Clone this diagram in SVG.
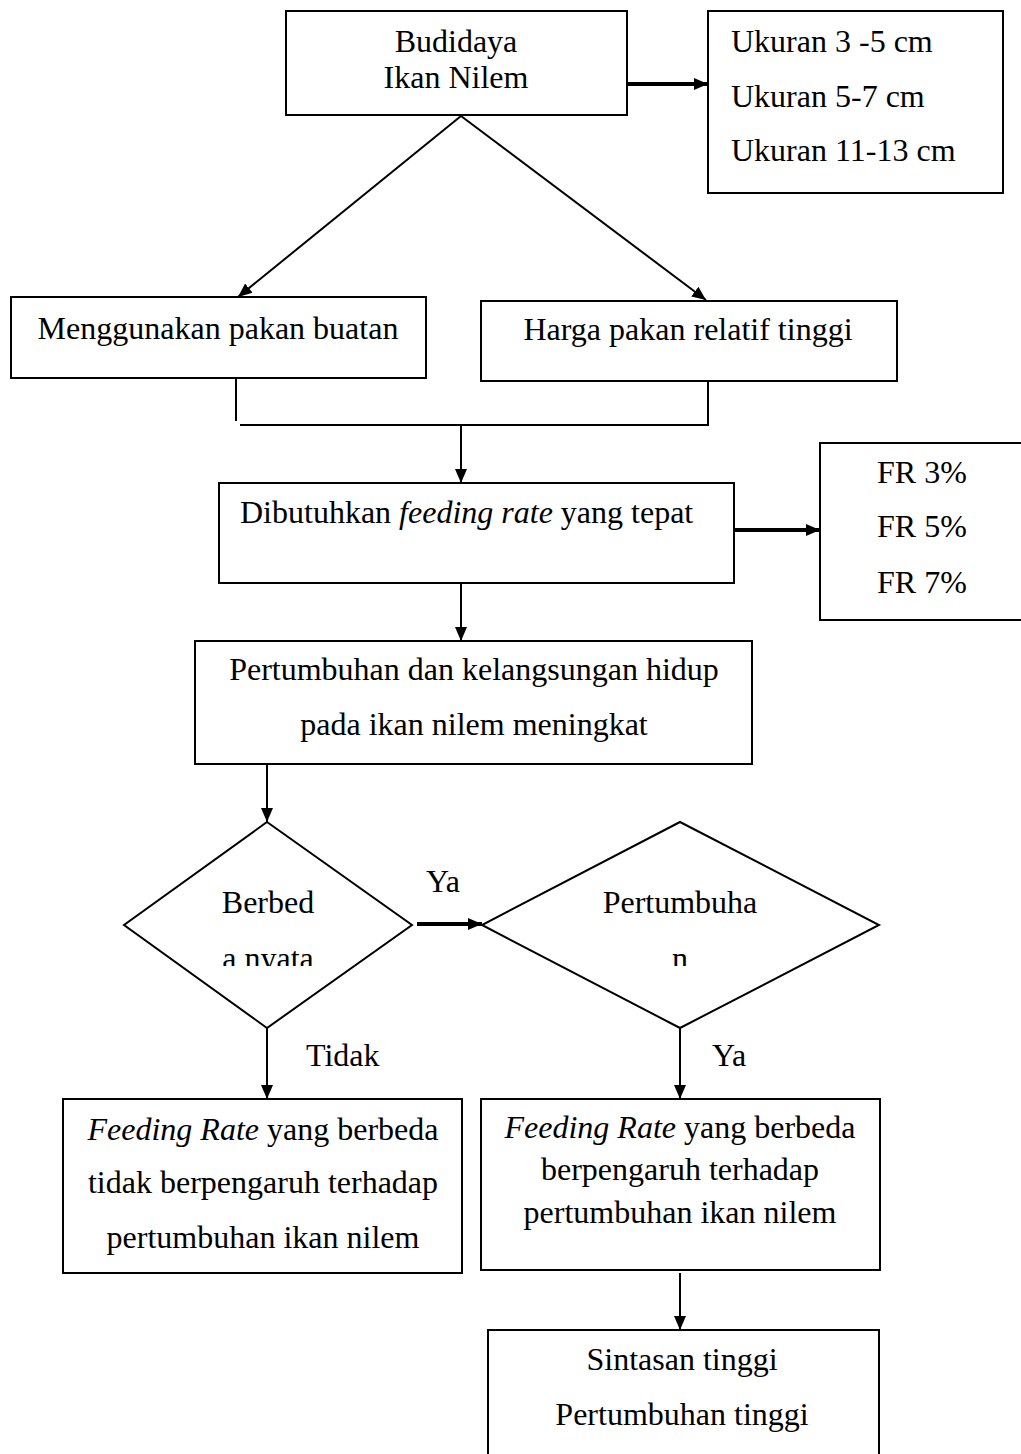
<svg xmlns="http://www.w3.org/2000/svg" width="1021" height="1454" viewBox="0 0 1021 1454">
<style>
  .box { fill: #fff; stroke: #000; stroke-width: 2; }
  .t { font-family: "Liberation Serif", "Times New Roman", serif; font-size: 32px; fill: #000; }
  .c { text-anchor: middle; }
  .i { font-style: italic; }
  .ln { stroke: #000; stroke-width: 2; fill: none; }
  .thick { stroke: #000; stroke-width: 4; fill: none; }
</style>
<defs>
  <marker id="ah" markerUnits="userSpaceOnUse" markerWidth="16" markerHeight="14" refX="14" refY="7" orient="auto">
    <path d="M0,1 L14,7 L0,13 Z" fill="#000"/>
  </marker>
  <clipPath id="clipD">
    <rect x="0" y="0" width="1021" height="966"/>
  </clipPath>
</defs>

<rect width="1021" height="1454" fill="#fff"/>

<g id="connectors">
  <line class="thick" x1="628" y1="84" x2="708" y2="84" marker-end="url(#ah)"/>
  <line class="ln" x1="461" y1="116" x2="238" y2="297" marker-end="url(#ah)"/>
  <line class="ln" x1="461" y1="116" x2="706" y2="300" marker-end="url(#ah)"/>
  <line class="ln" x1="236" y1="378" x2="236" y2="421"/>
  <line class="ln" x1="708" y1="381" x2="708" y2="426"/>
  <line class="ln" x1="240" y1="425" x2="709" y2="425"/>
  <line class="ln" x1="461" y1="425" x2="461" y2="483" marker-end="url(#ah)"/>
  <line class="thick" x1="731" y1="530" x2="820" y2="530" marker-end="url(#ah)"/>
  <line class="ln" x1="461" y1="583" x2="461" y2="641" marker-end="url(#ah)"/>
  <line class="ln" x1="267" y1="764" x2="267" y2="822" marker-end="url(#ah)"/>
  <line class="thick" x1="417" y1="924" x2="482" y2="924" marker-end="url(#ah)"/>
  <line class="ln" x1="267" y1="1028" x2="267" y2="1099" marker-end="url(#ah)"/>
  <line class="ln" x1="680" y1="1028" x2="680" y2="1099" marker-end="url(#ah)"/>
  <line class="ln" x1="680" y1="1273" x2="680" y2="1330" marker-end="url(#ah)"/>
  <text class="t c" x="443" y="892">Ya</text>
  <text class="t" x="306" y="1066">Tidak</text>
  <text class="t" x="712" y="1066">Ya</text>
</g>

<g id="n-budidaya">
  <rect class="box" x="286" y="11" width="341" height="104"/>
  <text class="t c" x="456" y="52">Budidaya</text>
  <text class="t c" x="456" y="88">Ikan Nilem</text>
</g>

<g id="n-ukuran">
  <rect class="box" x="708" y="11" width="295" height="182"/>
  <text class="t" x="731" y="52">Ukuran 3 -5 cm</text>
  <text class="t" x="731" y="107">Ukuran 5-7 cm</text>
  <text class="t" x="731" y="161">Ukuran 11-13 cm</text>
</g>

<g id="n-pakan-buatan">
  <rect class="box" x="11" y="297" width="415" height="81"/>
  <text class="t c" x="218" y="339">Menggunakan pakan buatan</text>
</g>

<g id="n-harga">
  <rect class="box" x="481" y="301" width="416" height="80"/>
  <text class="t c" x="688" y="340">Harga pakan relatif tinggi</text>
</g>

<g id="n-feeding-rate">
  <rect class="box" x="219" y="483" width="515" height="100"/>
  <text class="t" x="240" y="523">Dibutuhkan <tspan class="i">feeding rate</tspan> yang tepat</text>
</g>

<g id="n-fr">
  <rect class="box" x="820" y="443" width="210" height="177"/>
  <text class="t" x="877" y="483">FR 3%</text>
  <text class="t" x="877" y="537">FR 5%</text>
  <text class="t" x="877" y="593">FR 7%</text>
</g>

<g id="n-pertumbuhan">
  <rect class="box" x="195" y="641" width="557" height="123"/>
  <text class="t c" x="474" y="680">Pertumbuhan dan kelangsungan hidup</text>
  <text class="t c" x="474" y="735">pada ikan nilem meningkat</text>
</g>

<g id="n-berbeda-nyata">
  <polygon class="box" points="267,822 412,925 267,1028 124,925"/>
  <text class="t c" x="268" y="913">Berbed</text>
  <text class="t c" x="268" y="969" clip-path="url(#clipD)">a nyata</text>
</g>

<g id="n-pertumbuhan-dec">
  <polygon class="box" points="680,822 879,925 680,1028 482,925"/>
  <text class="t c" x="680" y="913">Pertumbuha</text>
  <text class="t c" x="680" y="969" clip-path="url(#clipD)">n</text>
</g>

<g id="n-tidak-berpengaruh">
  <rect class="box" x="63" y="1099" width="399" height="174"/>
  <text class="t c" x="263" y="1140"><tspan class="i">Feeding Rate</tspan> yang berbeda</text>
  <text class="t c" x="263" y="1193">tidak berpengaruh terhadap</text>
  <text class="t c" x="263" y="1248">pertumbuhan ikan nilem</text>
</g>

<g id="n-berpengaruh">
  <rect class="box" x="481" y="1099" width="399" height="171"/>
  <text class="t c" x="680" y="1138"><tspan class="i">Feeding Rate</tspan> yang berbeda</text>
  <text class="t c" x="680" y="1180">berpengaruh terhadap</text>
  <text class="t c" x="680" y="1223">pertumbuhan ikan nilem</text>
</g>

<g id="n-sintasan">
  <rect class="box" x="488" y="1330" width="391" height="140"/>
  <text class="t c" x="682" y="1370">Sintasan tinggi</text>
  <text class="t c" x="682" y="1425">Pertumbuhan tinggi</text>
</g>
</svg>
